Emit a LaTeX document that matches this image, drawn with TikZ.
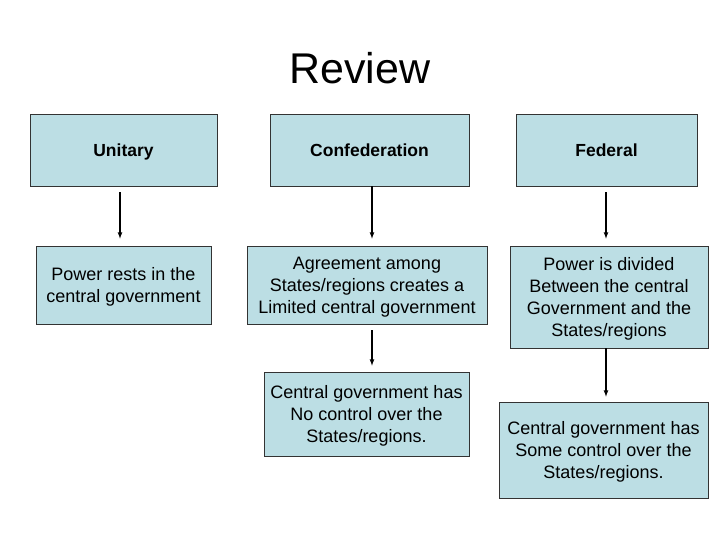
\documentclass[tikz,border=0pt]{standalone}
\usepackage{fontspec}
\setmainfont{Liberation Sans}
\usetikzlibrary{arrows,calc}
\definecolor{boxblue}{RGB}{188,222,228}
\newcommand{\topgap}{\rule{0pt}{17bp}}

\begin{document}
\begin{tikzpicture}[x=1bp,y=-1bp, font=\fontsize{18bp}{22bp}\selectfont,
        box/.style={draw=black!80, line width=0.6bp, fill=boxblue, align=center, inner sep=0pt},
        head/.style={box, text height=13bp, text depth=0bp, font=\fontsize{17.5bp}{22bp}\selectfont\bfseries},
        arr/.style={-latex, line width=1.2bp}]
        \useasboundingbox (0,0) rectangle (720,540);
        \node[font=\fontsize{43bp}{50bp}\selectfont] (title) at (360,68) {Review};
        % top row
        \node[head, minimum width=187bp, minimum height=72bp] (uni) at (123.5,150) {Unitary};
        \node[head, minimum width=199bp, minimum height=72bp] (conf) at (369.5,150) {Confederation};
        \node[head, minimum width=181bp, minimum height=72bp] (fed) at (606.5,150) {Federal};
        % second row
        \node[box, minimum width=175bp, minimum height=78bp] (unidef) at (123.5,285) {\topgap Power rests in the\\central government};
        \node[box, minimum width=240bp, minimum height=78bp] (confdef) at (367,285) {\topgap Agreement among\\States/regions creates a\\Limited central government};
        \node[box, minimum width=198bp, minimum height=102bp] (feddef) at (609,297) {\topgap Power is divided\\Between the central\\Government and the\\States/regions};
        % third row
        \node[box, minimum width=205bp, minimum height=84bp] (confres) at (366.5,414) {\topgap Central government has\\No control over the\\States/regions.};
        \node[box, minimum width=209bp, minimum height=96bp] (fedres) at (603.5,450) {\topgap Central government has\\Some control over the\\States/regions.};
        % arrows
        \draw[arr, shorten <=6bp, shorten >=7bp] ([xshift=-3.5bp]uni.south) -- ([xshift=-3.5bp]uni.south |- unidef.north);
        \draw[arr, shorten >=7bp] ([xshift=2.5bp]conf.south) -- ([xshift=2.5bp]conf.south |- confdef.north);
        \draw[arr, shorten <=6bp, shorten >=7bp] ([xshift=-0.5bp]fed.south) -- ([xshift=-0.5bp]fed.south |- feddef.north);
        \draw[arr, shorten <=6bp, shorten >=6bp] ([xshift=5bp]confdef.south) -- ([xshift=5bp]confdef.south |- confres.north);
        \draw[arr, shorten >=5bp] ([xshift=-3bp]feddef.south) -- ([xshift=-3bp]feddef.south |- fedres.north);
\end{tikzpicture}
\end{document}
